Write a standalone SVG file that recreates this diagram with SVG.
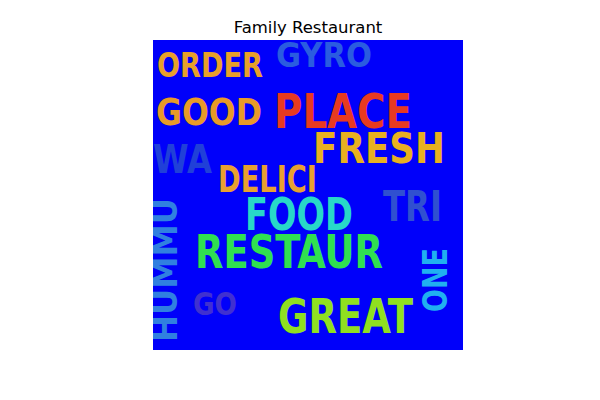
<svg xmlns="http://www.w3.org/2000/svg" width="600" height="400" viewBox="0 0 600 400">
<style>
.t{font-family:"DejaVu Sans",sans-serif;font-size:16.5px;fill:#000}
.w{font-family:"Liberation Sans Narrow","DejaVu Sans Condensed","Liberation Sans",sans-serif;font-weight:bold}
</style>
<defs><clipPath id="c"><rect x="153" y="40" width="310" height="310"/></clipPath></defs>
<rect width="600" height="400" fill="#fff"/>
<text class="t" x="308" y="32.7" text-anchor="middle">Family Restaurant</text>
<rect x="153" y="40" width="310" height="310" fill="#0000fa"/>
<g clip-path="url(#c)">
<g id="order"><text class="w" x="157" y="77" font-size="33" textLength="106" lengthAdjust="spacingAndGlyphs" fill="#e8a02a">ORDER</text></g>
<g id="gyro"><text class="w" x="276" y="67" font-size="34" textLength="96" lengthAdjust="spacingAndGlyphs" fill="#2a5ce0">GYRO</text></g>
<g id="good"><text class="w" x="156" y="125" font-size="37" textLength="106" lengthAdjust="spacingAndGlyphs" fill="#e89a28">GOOD</text></g>
<g id="place"><text class="w" x="274" y="128" font-size="48" textLength="138" lengthAdjust="spacingAndGlyphs" fill="#e83a20">PLACE</text></g>
<g id="fresh"><text class="w" x="313" y="163" font-size="42" textLength="132" lengthAdjust="spacingAndGlyphs" fill="#e8b020">FRESH</text></g>
<g id="wa"><text class="w" x="153" y="173" font-size="39" textLength="59" lengthAdjust="spacingAndGlyphs" fill="#2040d8">WA</text></g>
<g id="delici"><text class="w" x="218" y="192" font-size="37" textLength="99" lengthAdjust="spacingAndGlyphs" fill="#e8a030">DELICI</text></g>
<g id="tri"><text class="w" x="383" y="221" font-size="43" textLength="59" lengthAdjust="spacingAndGlyphs" fill="#3050d0">TRI</text></g>
<g id="food"><text class="w" x="245" y="230" font-size="44" textLength="108" lengthAdjust="spacingAndGlyphs" fill="#28d8c8">FOOD</text></g>
<g id="restaur"><text class="w" x="195" y="268" font-size="46" textLength="188" lengthAdjust="spacingAndGlyphs" fill="#30e050">RESTAUR</text></g>
<g id="hummu"><text class="w" transform="translate(177 270) rotate(-90)" x="0" y="0" text-anchor="middle" font-size="33" textLength="144" lengthAdjust="spacingAndGlyphs" fill="#3080e0">HUMMU</text></g>
<g id="go"><text class="w" x="193" y="315" font-size="32" textLength="44" lengthAdjust="spacingAndGlyphs" fill="#4030d0">GO</text></g>
<g id="great"><text class="w" x="278" y="333" font-size="48" textLength="135" lengthAdjust="spacingAndGlyphs" fill="#90e020">GREAT</text></g>
<g id="one"><text class="w" transform="translate(447 280) rotate(-90)" x="0" y="0" text-anchor="middle" font-size="33" textLength="64" lengthAdjust="spacingAndGlyphs" fill="#20b0f0">ONE</text></g>
</g>
<g id="connectors"/>
</svg>
